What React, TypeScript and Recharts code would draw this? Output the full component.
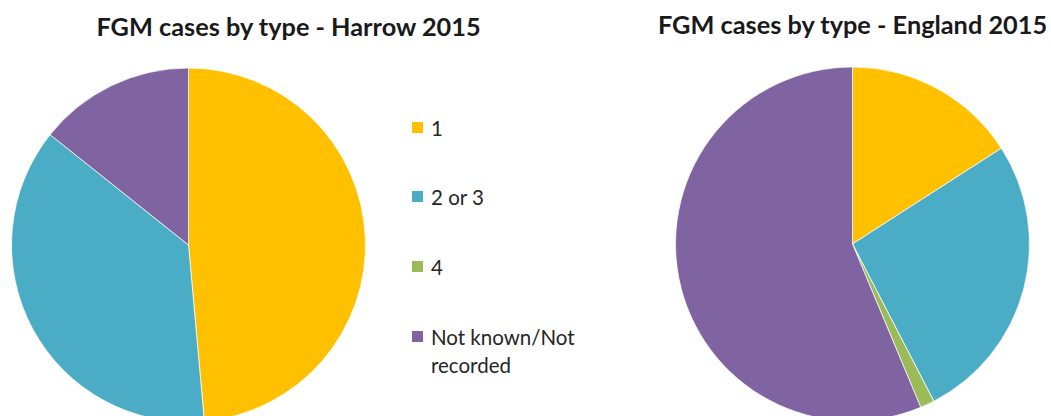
import React from "react";
import { PieChart, Pie, Cell } from "recharts";

const categories = ["1", "2 or 3", "4", "Not known/Not recorded"];
const colors = ["#FFC000", "#4BACC6", "#9BBB59", "#8064A2"];
const harrowValues = [17, 13, 0, 5];
const englandValues = [15.9, 26.5, 1.3, 56.3];
const titles = ["FGM cases by type - Harrow 2015", "FGM cases by type - England 2015"];

const harrowData = categories.map((name, i) => ({ name, value: harrowValues[i] }));
const englandData = categories.map((name, i) => ({ name, value: englandValues[i] }));

const font = "Lato, 'Open Sans', sans-serif";

export default function App() {
  return (
    <div
      style={{
        position: "absolute",
        left: 0,
        top: 0,
        width: 1051,
        height: 416,
        overflow: "hidden",
        background: "#fff",
        fontFamily: font,
      }}
    >
      <div style={{ position: "absolute", left: 0, top: 0 }}>
        <PieChart width={1051} height={416} margin={{ top: 0, right: 0, bottom: 0, left: 0 }}>
          <Pie
            data={harrowData}
            dataKey="value"
            nameKey="name"
            cx={188.5}
            cy={245}
            outerRadius={177}
            startAngle={90}
            endAngle={-270}
            stroke="#ffffff"
            strokeWidth={0.75}
            isAnimationActive={false}
          >
            {harrowData.map((d, i) => (
              <Cell key={d.name} fill={colors[i]} />
            ))}
          </Pie>
          <Pie
            data={englandData}
            dataKey="value"
            nameKey="name"
            cx={852.5}
            cy={244}
            outerRadius={177}
            startAngle={90}
            endAngle={-270}
            stroke="#ffffff"
            strokeWidth={0.75}
            isAnimationActive={false}
          >
            {englandData.map((d, i) => (
              <Cell key={d.name} fill={colors[i]} />
            ))}
          </Pie>
        </PieChart>
      </div>
      <div
        style={{
          position: "absolute",
          left: 288.5 - 250,
          width: 500,
          top: 10.5,
          textAlign: "center",
          fontWeight: 700,
          fontSize: 25.3,
          color: "#1a1a1a",
          whiteSpace: "nowrap",
        }}
      >
        {titles[0]}
      </div>
      <div
        style={{
          position: "absolute",
          left: 852.5 - 250,
          width: 500,
          top: 8.5,
          textAlign: "center",
          fontWeight: 700,
          fontSize: 25.3,
          color: "#1a1a1a",
          whiteSpace: "nowrap",
        }}
      >
        {titles[1]}
      </div>
      {categories.map((c, i) => {
        const top = [128, 197, 267, 337][i];
        return (
          <div key={c} style={{ position: "absolute", left: 412, top: top - 12 }}>
            <div
              style={{
                position: "absolute",
                left: 0,
                top: 6,
                width: 11,
                height: 11,
                background: colors[i],
              }}
            />
            <div
              style={{
                position: "absolute",
                left: 19,
                top: 0,
                width: 170,
                fontSize: 20.5,
                lineHeight: "28px",
                marginTop: -2,
                color: "#262626",
              }}
            >
              {c}
            </div>
          </div>
        );
      })}
    </div>
  );
}
